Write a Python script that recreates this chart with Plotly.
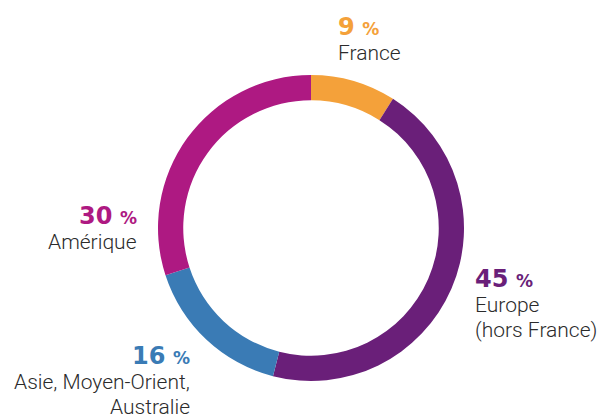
import plotly.graph_objects as go

regions = ["France", "Europe (hors France)", "Asie, Moyen-Orient, Australie", "Amérique"]
shares = [9, 45, 16, 30]
colors = ["#F4A13A", "#6A1F79", "#3A7BB5", "#AE1982"]
label_lines = [["France"], ["Europe", "(hors France)"], ["Asie, Moyen-Orient,", "Australie"], ["Amérique"]]

W, H = 598, 416
cx, cy, R = 311, 228, 153

fig = go.Figure(go.Pie(
    labels=regions, values=shares, hole=0.835, sort=False, direction="clockwise",
    rotation=0, marker=dict(colors=colors, line=dict(width=0)),
    textinfo="none", hoverinfo="label+percent", showlegend=False,
    domain=dict(x=[(cx - R) / W, (cx + R) / W], y=[1 - (cy + R) / H, 1 - (cy - R) / H]),
))

# label anchor positions (pixels): x, y of percentage line, alignment
anchors = [(336, 27, "left"), (473, 279, "left"), (192, 356, "right"), (139, 216, "right")]

for i, (ax, ay, al) in enumerate(anchors):
    xanchor = "left" if al == "left" else "right"
    fig.add_annotation(
        x=ax / W, y=1 - ay / H, xref="paper", yref="paper", xanchor=xanchor, yanchor="middle",
        text=f"<b>{shares[i]}</b> <b><span style='font-size:17px'>%</span></b>",
        showarrow=False, font=dict(family="DejaVu Sans, sans-serif", size=24, color=colors[i]),
    )
    for j, line in enumerate(label_lines[i]):
        fig.add_annotation(
            x=ax / W, y=1 - (ay + 26 + 25 * j) / H, xref="paper", yref="paper",
            xanchor=xanchor, yanchor="middle", text=line, showarrow=False,
            font=dict(family="Roboto, sans-serif", size=21, color="#2b2b2b", weight=300),
        )

fig.update_layout(
    width=W, height=H, margin=dict(l=0, r=0, t=0, b=0),
    paper_bgcolor="white", plot_bgcolor="white",
)
fig.write_html("out.html", config={"displayModeBar": False})

# remove default browser body margin so the figure sits at the page origin
with open("out.html", encoding="utf-8") as f:
    html = f.read()
html = html.replace("<head>", "<head><style>html,body{margin:0;padding:0;overflow:hidden;}</style>", 1)
with open("out.html", "w", encoding="utf-8") as f:
    f.write(html)
